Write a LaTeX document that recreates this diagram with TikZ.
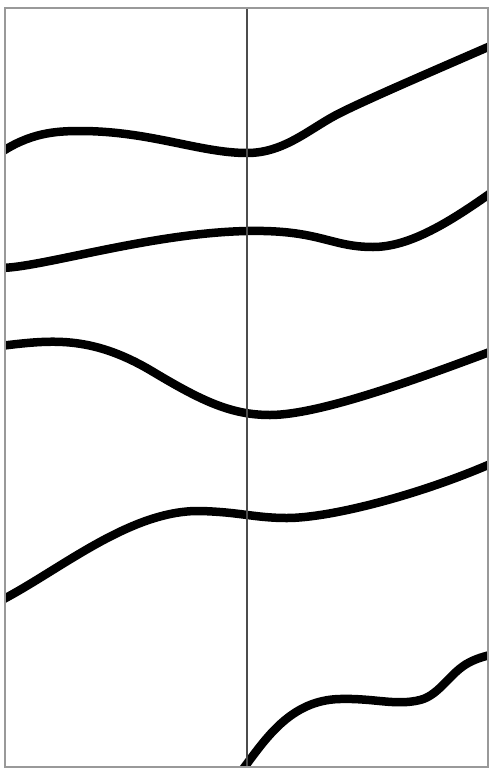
\documentclass[tikz,border=0pt]{standalone}
\begin{document}
\begin{tikzpicture}[x=1pt,y=-1pt,
  wave/.style={line width=8.5pt,black,line cap=butt},
  frame/.style={draw=black!40,line width=1.8pt},
  divider/.style={draw=black!70,line width=1.3pt}]
\useasboundingbox (0,0) rectangle (489,769);
\fill[white] (0,0) rectangle (489,769);
\begin{scope}
\clip (5,8) rectangle (488,767);
% curve 1
\draw[wave] (0,153) .. controls (30,133) and (55,131) .. (80,131)
  .. controls (150,131) and (200,153) .. (247,153)
  .. controls (285,153) and (310,128) .. (340,113)
  .. controls (370,98) and (440,68) .. (495,44);
% curve 2
\draw[wave] (0,268) .. controls (40,268) and (150,233) .. (247,231)
  .. controls (320,229.5) and (330,247) .. (373,247)
  .. controls (410,247) and (450,222) .. (495,190);
% curve 3
\draw[wave] (0,346) .. controls (50,340) and (90,335) .. (150,370)
  .. controls (200,400) and (230,415) .. (270,415)
  .. controls (320,415) and (420,378) .. (495,350);
% curve 4
\draw[wave] (0,601) .. controls (60,570) and (130,510) .. (200,511)
  .. controls (240,512) and (255,518) .. (287,518)
  .. controls (330,518) and (420,495) .. (495,462);
% curve 5
\draw[wave] (243,769) .. controls (265,740) and (290,700) .. (340,699)
  .. controls (375,698) and (395,706) .. (420,700)
  .. controls (440,695) and (450,672) .. (470,662)
  .. controls (480,657) and (490,655) .. (495,654);
\end{scope}
\draw[divider] (247,8) -- (247,767);
\draw[frame] (5,8) rectangle (488,767);
\end{tikzpicture}
\end{document}
